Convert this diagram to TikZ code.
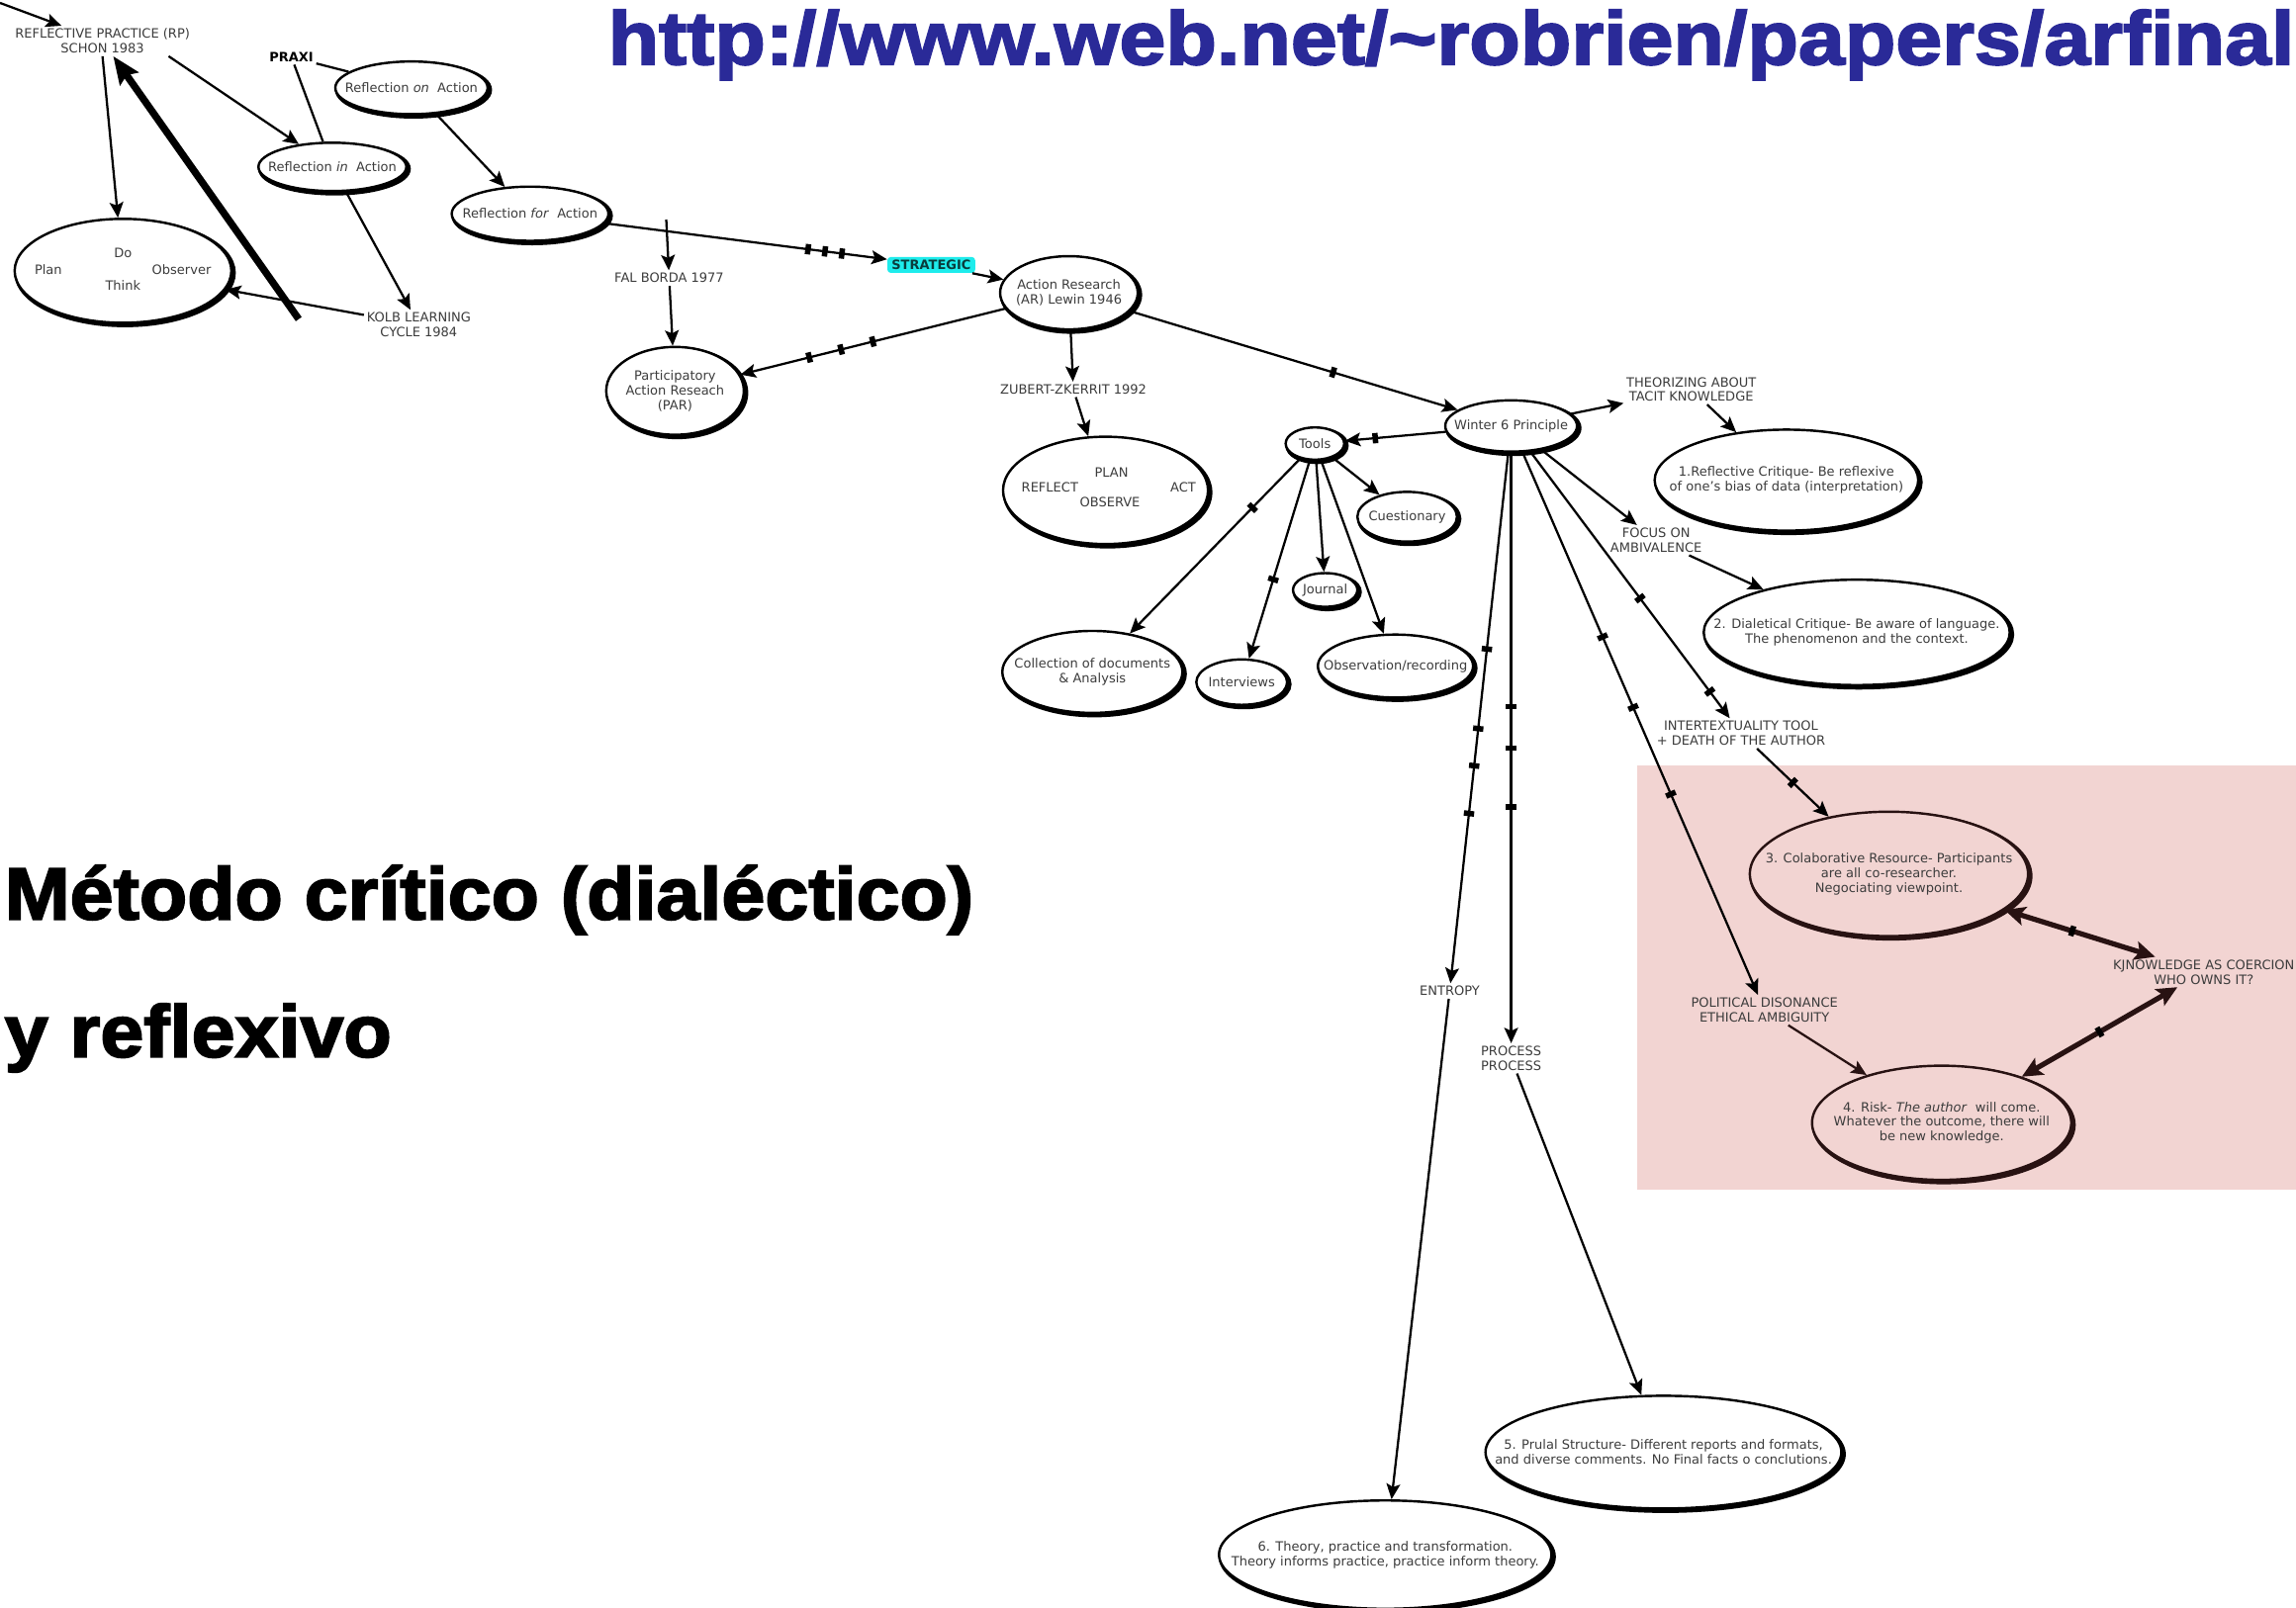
\documentclass[tikz,border=0pt]{standalone}
\usepackage{fontspec}
\setmainfont{DejaVu Sans}
\newfontfamily\urlfont[FakeStretch=1.105,FakeBold=2.5]{Liberation Sans}
\newfontfamily\headfont[FakeStretch=1.06,FakeBold=2.5]{Liberation Sans}
\usepackage{tikz}
\usetikzlibrary{shapes.geometric,arrows.meta,decorations.markings}
\definecolor{urlblue}{RGB}{42,42,152}
\definecolor{strcyan}{RGB}{30,236,236}
\definecolor{strtext}{RGB}{10,60,60}
\definecolor{pinkbg}{RGB}{242,212,210}
\definecolor{txtgray}{RGB}{60,60,60}
\definecolor{darkline}{RGB}{40,18,18}

\begin{document}
\begin{tikzpicture}[%
x=0.03cm, y=-0.03cm,%
font=\fontsize{7.5}{8.6}\selectfont,%
trans/.style={->,>={Stealth[length=9pt,width=8pt,inset=1.8pt]},line width=1.3pt},%
link/.style={line width=1.3pt},%
heavy/.style={->,>={Stealth[length=16pt,width=13pt,inset=2.5pt]},line width=4.2pt},%
twoway/.style={<->,>={Stealth[length=12pt,width=11pt,inset=2.5pt]},line width=3pt,draw=darkline},%
bubble/.style={ellipse, draw, fill=white, line width=1.4pt, inner sep=0pt,%
  preaction={draw, line width=2.8pt, transform canvas={shift={(1.2pt,-1.2pt)}}}},%
tag/.style={text=txtgray, align=center, inner sep=1.5pt},%
bar/.style={postaction={decorate, decoration={markings,%
  mark=at position #1 with {\fill (-1.6pt,-3pt) rectangle (1.6pt,3pt);}}}},%
  ]
    \fill[white] (0,0) rectangle (1568,1098);
    \useasboundingbox (0,0) rectangle (1568,1098);
    \fill[pinkbg] (1118,523) rectangle (1568,813);

    \node[anchor=base west, inner sep=0pt, text=urlblue, font=\urlfont\bfseries\fontsize{44}{50}\selectfont] (t1) at (415,44) {http://www.web.net/\textasciitilde robrien/papers/arfinal};

    \node[anchor=base west, inner sep=0pt, font=\headfont\bfseries\fontsize{43}{50}\selectfont] (t2) at (3,628) {Método crítico (dialéctico)};

    \node[anchor=base west, inner sep=0pt, font=\headfont\bfseries\fontsize{43}{50}\selectfont] (t3) at (3,722) {y reflexivo};

    \node[tag] (1) at (70,28) {REFLECTIVE PRACTICE (RP)\\SCHON 1983};

    \node[tag, text=black] (2) at (199,39) {\bfseries PRAXI};

    \node[bubble, minimum width=3.12cm, minimum height=1.08cm, label={[tag]center:Reflection \textit{on}~ Action}] (3) at (281,60) {};

    \node[bubble, minimum width=3.03cm, minimum height=0.99cm, label={[tag]center:Reflection \textit{in}~ Action}] (4) at (227,114) {};

    \node[bubble, minimum width=3.21cm, minimum height=1.11cm, label={[tag]center:Reflection \textit{for}~ Action}] (5) at (362,146) {};

    \node[bubble, minimum width=4.44cm, minimum height=2.13cm] (6) at (84,185) {};
    \node[tag] (61) at (33,184) {Plan};
    \node[tag] (62) at (84,173) {Do};
    \node[tag] (63) at (84,195) {Think};
    \node[tag] (64) at (124,184) {Observer};

    \node[tag] (7) at (286,222) {KOLB LEARNING\\CYCLE 1984};

    \coordinate (c1) at (0,2);
    \coordinate (c2) at (204,218);
    \coordinate (c3) at (455,150);

    \node[tag] (8) at (457,190) {FAL BORDA 1977};

    \node[bubble, minimum width=2.82cm, minimum height=1.8cm, label={[tag]center:Participatory\\Action Reseach\\(PAR)}] (9) at (461,267) {};

    \node[fill=strcyan, rounded corners=2pt, text=strtext, inner xsep=2.5pt, inner ysep=1.8pt] (10) at (636,181) {\bfseries STRATEGIC};

    \node[bubble, minimum width=2.82cm, minimum height=1.5cm, label={[tag]center:Action Research\\(AR) Lewin 1946}] (11) at (730,200) {};

    \node[tag] (12) at (733,266) {ZUBERT-ZKERRIT 1992};

    \node[bubble, minimum width=4.2cm, minimum height=2.2cm] (13) at (755,335) {};
    \node[tag] (131) at (759,323) {PLAN};
    \node[tag] (132) at (717,333) {REFLECT};
    \node[tag] (133) at (758,343) {OBSERVE};
    \node[tag] (134) at (808,333) {ACT};

    \node[bubble, minimum width=2.7cm, minimum height=1.05cm, label={[tag]center:Winter 6 Principle}] (14) at (1032,291) {};

    \node[bubble, minimum width=1.2cm, minimum height=0.66cm, label={[tag]center:Tools}] (15) at (898,303) {};

    \node[bubble, minimum width=3.69cm, minimum height=1.68cm, label={[tag]center:Collection of documents\\\& Analysis}] (16) at (746,459) {};

    \node[bubble, minimum width=1.86cm, minimum height=0.93cm, label={[tag]center:Interviews}] (17) at (848,466) {};

    \node[bubble, minimum width=1.32cm, minimum height=0.69cm, label={[tag]center:Journal}] (18) at (905,403) {};

    \node[bubble, minimum width=3.18cm, minimum height=1.29cm, label={[tag]center:Observation/recording}] (19) at (953,455) {};

    \node[bubble, minimum width=2.04cm, minimum height=1.02cm, label={[tag]center:Cuestionary}] (20) at (961,353) {};

    \node[tag] (21) at (1155,266) {THEORIZING ABOUT\\TACIT KNOWLEDGE};

    \node[bubble, minimum width=5.4cm, minimum height=2.07cm, label={[tag]center:{1.Reflective Critique- Be reflexive\\of one's bias of data (interpretation)}}] (22) at (1220,328) {};

    \node[tag] (23) at (1131,369) {FOCUS ON\\AMBIVALENCE};

    \node[bubble, minimum width=6.27cm, minimum height=2.16cm, label={[tag]center:{2. Dialetical Critique- Be aware of language.\\The phenomenon and the context.}}] (24) at (1268,432) {};

    \node[tag] (25) at (1189,501) {INTERTEXTUALITY TOOL\\+ DEATH OF THE AUTHOR};

    \node[bubble, fill=pinkbg, draw=darkline, minimum width=5.7cm, minimum height=2.55cm, label={[tag]center:{3. Colaborative Resource- Participants\\are all co-researcher.\\Negociating viewpoint.}}] (26) at (1290,597) {};

    \node[tag] (27) at (1205,690) {POLITICAL DISONANCE\\ETHICAL AMBIGUITY};

    \node[bubble, fill=pinkbg, draw=darkline, minimum width=5.31cm, minimum height=2.34cm, label={[tag]center:{4. Risk- \textit{The author}~ will come.\\Whatever the outcome, there will\\be new knowledge.}}] (28) at (1326,767) {};

    \node[tag] (29) at (1505,664) {KJNOWLEDGE AS COERCION\\WHO OWNS IT?};

    \node[tag] (30) at (990,677) {ENTROPY};

    \node[bubble, minimum width=6.81cm, minimum height=2.22cm, label={[tag]center:{6. Theory, practice and transformation.\\Theory informs practice, practice inform theory.}}] (31) at (946,1062) {};

    \node[tag] (32) at (1032,723) {PROCESS\\PROCESS};

    \node[bubble, minimum width=7.29cm, minimum height=2.31cm, label={[tag]center:{5. Prulal Structure- Different reports and formats,\\and diverse comments. No Final facts o conclutions.}}] (33) at (1136,992) {};

        \draw[trans] (c1) to (1);
        \draw[trans] (1.south) to (6);
        \draw[trans] (1.-13) to (4);
        \draw[heavy] (c2) to (1);
        \draw[link] (2) to (3);
        \draw[link] (2) to (4);
        \draw[trans] (3) to (5);
        \draw[trans] (4) to (7);
        \draw[trans] (7) to (6);

        \draw[trans, bar=0.72, bar=0.78, bar=0.84] (5) to (10);
        \draw[trans] (c3) to (8);
        \draw[trans] (8) to (9);
        \draw[trans] (10) to (11);
        \draw[trans, bar=0.5, bar=0.62, bar=0.74] (11) to (9);
        \draw[trans] (11) to (12);
        \draw[trans] (12) to (13);
        \draw[trans, bar=0.62] (11) to (14);
        \draw[trans, bar=0.7] (14) to (15);

          \path (15) edge[trans, bar=0.28] (16)
          (15) edge[trans, bar=0.6] (17)
          (15) edge[trans] (18)
          (15) edge[trans] (19)
          (15) edge[trans] (20)
          ;

          \path (14) edge[trans] (21)
          (21) edge[trans] (22)
          (14) edge[trans] (23)
          (23) edge[trans] (24)
          (14) edge[trans, bar=0.55, bar=0.9] (25)
          (25) edge[trans, bar=0.5] (26)
          (14) edge[trans, bar=0.34, bar=0.47, bar=0.63] (27)
          (27) edge[trans, darkline] (28)
          (14) edge[trans, bar=0.37, bar=0.52, bar=0.59, bar=0.68] (30)
          (30) edge[trans] (31)
          (14) edge[trans, bar=0.43, bar=0.5, bar=0.6] (32)
          (32) edge[trans] (33)
          ;

        \draw[twoway, bar=0.45] (26) to (29);
        \draw[twoway, bar=0.5] (28) to (29);
  \end{tikzpicture}
\end{document}
